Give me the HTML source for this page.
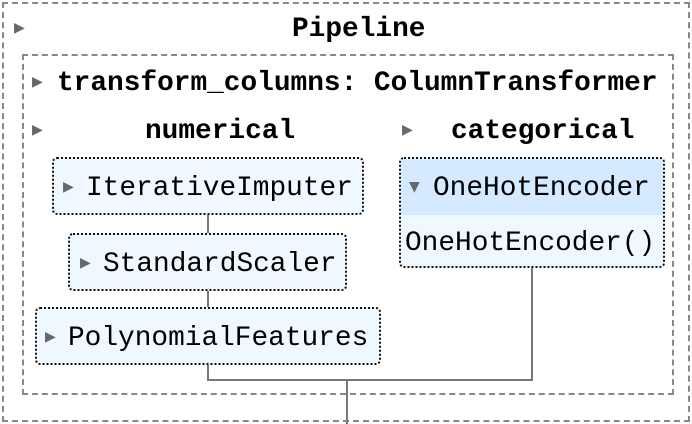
<!DOCTYPE html>
<html><head><meta charset="utf-8"><style>
html,body{margin:0;padding:0;background:#fff;}
body{width:692px;height:424px;position:relative;overflow:hidden;font-family:"Courier New","Liberation Mono",monospace;color:#000;}
.a{position:absolute;}
.t{font-size:27.8px;line-height:1;white-space:nowrap;}
.b{font-weight:bold;}
.tri{position:absolute;color:#696969;font-size:14px;line-height:1;font-family:"DejaVu Sans",sans-serif;}
.box{position:absolute;border:2px dotted #111;border-radius:5px;background:#f0f8ff;box-sizing:border-box;}
.ln{position:absolute;background:#777;}
</style></head><body>
<div class="a" style="left:2px;top:2px;width:688px;height:420px;border:2px dashed #888;box-sizing:border-box;"></div>
<div class="a" style="left:22px;top:54px;width:652px;height:341px;border:2px dashed #888;box-sizing:border-box;"></div>
<div class="tri" style="left:14px;top:21px;">▶</div>
<div class="a t b" style="left:292px;top:16px;">Pipeline</div>
<div class="tri" style="left:32px;top:75px;">▶</div>
<div class="a t b" style="left:57px;top:70px;">transform_columns: ColumnTransformer</div>
<div class="tri" style="left:32px;top:123px;">▶</div>
<div class="a t b" style="left:145px;top:118px;">numerical</div>
<div class="tri" style="left:402px;top:123px;">▶</div>
<div class="a t b" style="left:451px;top:118px;">categorical</div>

<div class="ln" style="left:207px;top:214px;width:2px;height:20px;"></div>
<div class="ln" style="left:207px;top:290px;width:2px;height:18px;"></div>
<div class="ln" style="left:207px;top:364px;width:2px;height:17px;"></div>
<div class="ln" style="left:207px;top:379px;width:326px;height:2px;"></div>
<div class="ln" style="left:531px;top:266px;width:2px;height:115px;"></div>
<div class="ln" style="left:346px;top:380px;width:2px;height:44px;"></div>

<div class="box" style="left:52px;top:157px;width:312px;height:58px;"></div>
<div class="tri" style="left:63px;top:180px;">▶</div>
<div class="a t" style="left:86px;top:175px;">IterativeImputer</div>
<div class="box" style="left:68px;top:233px;width:279px;height:58px;"></div>
<div class="tri" style="left:80px;top:256px;">▶</div>
<div class="a t" style="left:103px;top:251px;">StandardScaler</div>
<div class="box" style="left:35px;top:307px;width:346px;height:58px;"></div>
<div class="tri" style="left:45px;top:330px;">▶</div>
<div class="a t" style="left:68px;top:325px;">PolynomialFeatures</div>

<div class="box" style="left:399px;top:157px;width:266px;height:111px;overflow:hidden;">
<div style="position:absolute;left:0;top:0;right:0;height:56px;background:#d4ebff;"></div></div>
<div class="tri" style="left:409px;top:180px;">▼</div>
<div class="a t" style="left:433px;top:175px;">OneHotEncoder</div>
<div class="a t" style="left:405px;top:230px;">OneHotEncoder()</div>
</body></html>
